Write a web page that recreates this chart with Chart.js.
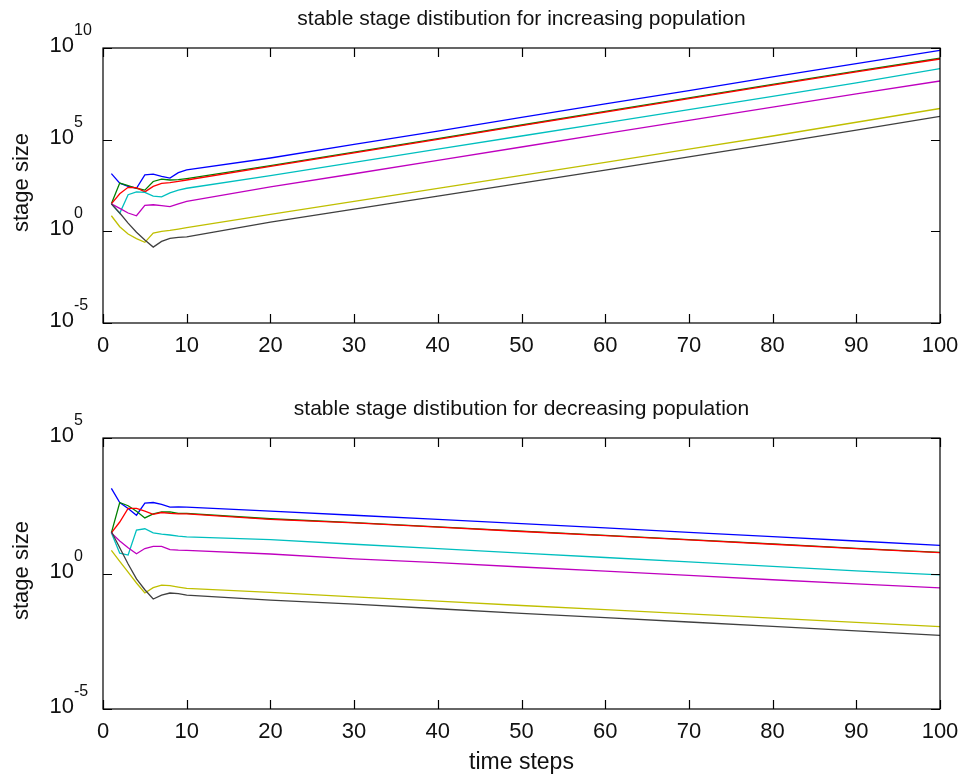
<!DOCTYPE html>
<html>
<head>
<meta charset="utf-8">
<script src="https://cdn.jsdelivr.net/npm/chart.js@4.4.0/dist/chart.umd.min.js"></script>
<style>
html,body{margin:0;padding:0;background:#fff;}
#wrap{position:relative;width:962px;height:778px;overflow:hidden;}
canvas{position:absolute;left:0;}
#c1{top:0;}
#c2{top:389px;}
</style>
</head>
<body>
<div id="wrap">
<canvas id="c1" width="962" height="389"></canvas>
<canvas id="c2" width="962" height="389"></canvas>
</div>
<script>
// ---------------- data (log10 of stage size) ----------------
const timeSteps = [1,2,3,4,5,6,7,8,9,10,20,30,40,50,60,70,80,90,100];
const stageNames = ['stage 1','stage 2','stage 3','stage 4','stage 5','stage 6','stage 7'];

// increasing population
const incStage1 = [3.15,2.63,2.45,2.35,3.08,3.12,3.0,2.9,3.2,3.35, 4.0,4.74,5.47,6.21,6.95,7.68,8.42,9.15,9.87];
const incStage2 = [1.5,2.63,2.5,2.35,2.25,2.72,2.85,2.8,2.82,2.88, 3.58,4.32,5.06,5.8,6.54,7.28,8.02,8.74,9.44];
const incStage3 = [1.5,2.05,2.4,2.38,2.15,2.45,2.62,2.66,2.72,2.8, 3.54,4.28,5.02,5.76,6.5,7.24,7.98,8.7,9.4];
const incStage4 = [1.5,0.98,2.0,2.15,2.12,1.92,1.88,2.1,2.25,2.35, 3.04,3.76,4.48,5.2,5.92,6.64,7.36,8.1,8.88];
const incStage5 = [1.5,1.25,1.0,0.85,1.42,1.45,1.4,1.35,1.5,1.63, 2.42,3.14,3.87,4.6,5.33,6.05,6.78,7.5,8.2];
const incStage6 = [0.85,0.25,-0.15,-0.4,-0.6,-0.1,0.0,0.05,0.12,0.2, 0.92,1.63,2.34,3.05,3.76,4.48,5.2,5.95,6.7];
const incStage7 = [1.5,1.0,0.45,-0.05,-0.47,-0.86,-0.55,-0.38,-0.33,-0.3, 0.5,1.21,1.92,2.63,3.34,4.06,4.78,5.52,6.27];

// decreasing population
const decStage1 = [3.14,2.62,2.4,2.15,2.6,2.62,2.55,2.45,2.46,2.45, 2.3,2.15,2.0,1.84,1.68,1.52,1.36,1.2,1.04];
const decStage2 = [1.5,2.62,2.5,2.3,2.05,2.2,2.27,2.27,2.22,2.22, 2.02,1.88,1.72,1.56,1.41,1.25,1.09,0.93,0.78];
const decStage3 = [1.5,1.9,2.4,2.4,2.3,2.18,2.25,2.22,2.2,2.2, 2.0,1.87,1.71,1.55,1.4,1.24,1.08,0.92,0.77];
const decStage4 = [1.5,0.75,0.68,1.6,1.65,1.5,1.45,1.42,1.38,1.35, 1.25,1.08,0.92,0.75,0.59,0.43,0.26,0.1,-0.05];
const decStage5 = [1.5,1.2,0.95,0.73,0.92,1.0,1.0,0.88,0.86,0.85, 0.72,0.54,0.4,0.24,0.09,-0.07,-0.23,-0.38,-0.53];
const decStage6 = [0.85,0.45,0.05,-0.35,-0.72,-0.52,-0.43,-0.45,-0.5,-0.55, -0.7,-0.86,-1.02,-1.18,-1.33,-1.49,-1.65,-1.8,-1.96];
const decStage7 = [1.55,0.95,0.35,-0.2,-0.6,-0.94,-0.8,-0.72,-0.74,-0.8, -0.98,-1.13,-1.3,-1.47,-1.63,-1.79,-1.95,-2.12,-2.28];

const xTicks = [0,10,20,30,40,50,60,70,80,90,100];
const topYTicks = [1e-5, 1e0, 1e5, 1e10];
const bottomYTicks = [1e-5, 1e0, 1e5];

const topTitle = 'stable stage distibution for increasing population';
const bottomTitle = 'stable stage distibution for decreasing population';
const yLabel = 'stage size';
const xLabel = 'time steps';

// ---------------- styles ----------------
const lineColors = ['#0000ff','#008000','#ff0000','#00bfbf','#bf00bf','#bfbf00','#404040'];
const FONT = '"Liberation Sans", Arial, Helvetica, sans-serif';
const TICK_LEN = 9;

function makeDatasets(seriesLogs) {
  return seriesLogs.map((logs, i) => ({
    label: stageNames[i],
    data: timeSteps.map((t, k) => ({ x: t, y: Math.pow(10, logs[k]) })),
    borderColor: lineColors[i],
    backgroundColor: lineColors[i],
    borderWidth: 1.3,
    pointRadius: 0,
    tension: 0,
    fill: false,
    order: seriesLogs.length - i
  }));
}

function framePlugin(title, yTicks, showXLabel) {
  return {
    id: 'matlabFrame',
    afterDraw(chart) {
      const ctx = chart.ctx;
      const a = chart.chartArea;
      const xs = chart.scales.x, ys = chart.scales.y;
      ctx.save();
      // box
      ctx.strokeStyle = '#000';
      ctx.lineWidth = 1.2;
      ctx.strokeRect(a.left, a.top, a.right - a.left, a.bottom - a.top);
      // inward ticks
      ctx.beginPath();
      xTicks.forEach(v => {
        const px = Math.round(xs.getPixelForValue(v)) + 0.5;
        ctx.moveTo(px, a.bottom); ctx.lineTo(px, a.bottom - TICK_LEN);
        ctx.moveTo(px, a.top); ctx.lineTo(px, a.top + TICK_LEN);
      });
      yTicks.forEach(v => {
        const py = Math.round(ys.getPixelForValue(v)) + 0.5;
        ctx.moveTo(a.left, py); ctx.lineTo(a.left + TICK_LEN, py);
        ctx.moveTo(a.right, py); ctx.lineTo(a.right - TICK_LEN, py);
      });
      ctx.stroke();

      ctx.fillStyle = '#111';
      // x tick labels
      ctx.font = '22px ' + FONT;
      ctx.textAlign = 'center';
      ctx.textBaseline = 'alphabetic';
      xTicks.forEach(v => {
        ctx.fillText(String(v), xs.getPixelForValue(v), a.bottom + 29);
      });
      // y tick labels 10^n
      yTicks.forEach(v => {
        const py = ys.getPixelForValue(v);
        const e = Math.round(Math.log10(v));
        ctx.font = '22px ' + FONT;
        ctx.textAlign = 'right';
        ctx.textBaseline = 'middle';
        ctx.fillText('10', a.left - 29, py - 2);
        ctx.font = '16px ' + FONT;
        ctx.textAlign = 'left';
        ctx.textBaseline = 'alphabetic';
        ctx.fillText(String(e), a.left - 29, py - 13);
      });
      // title
      ctx.font = '21px ' + FONT;
      ctx.textAlign = 'center';
      ctx.textBaseline = 'alphabetic';
      ctx.fillText(title, (a.left + a.right) / 2, a.top - 23);
      // y label
      ctx.save();
      ctx.font = '22px ' + FONT;
      ctx.translate(22, (a.top + a.bottom) / 2 - 3);
      ctx.rotate(-Math.PI / 2);
      ctx.textBaseline = 'middle';
      ctx.fillText(yLabel, 0, 0);
      ctx.restore();
      // x label
      if (showXLabel) {
        ctx.font = '23px ' + FONT;
        ctx.fillText(xLabel, (a.left + a.right) / 2, a.bottom + 60);
      }
      ctx.restore();
    }
  };
}

function makeChart(id, seriesLogs, yTicks, yMin, yMax, title, padTop, padBottom, showXLabel) {
  return new Chart(document.getElementById(id), {
    type: 'line',
    data: { datasets: makeDatasets(seriesLogs) },
    options: {
      responsive: false,
      animation: false,
      devicePixelRatio: 1,
      layout: { padding: { left: 103, right: 22, top: padTop, bottom: padBottom } },
      plugins: { legend: { display: false }, tooltip: { enabled: false }, title: { display: false } },
      scales: {
        x: { type: 'linear', min: 0, max: 100, display: false },
        y: { type: 'logarithmic', min: yMin, max: yMax, display: false }
      }
    },
    plugins: [framePlugin(title, yTicks, showXLabel)]
  });
}

makeChart('c1',
  [incStage1, incStage2, incStage3, incStage4, incStage5, incStage6, incStage7],
  topYTicks, 1e-5, 1e10, topTitle, 48, 66, false);
makeChart('c2',
  [decStage1, decStage2, decStage3, decStage4, decStage5, decStage6, decStage7],
  bottomYTicks, 1e-5, 1e5, bottomTitle, 49, 69, true);
</script>
</body>
</html>
